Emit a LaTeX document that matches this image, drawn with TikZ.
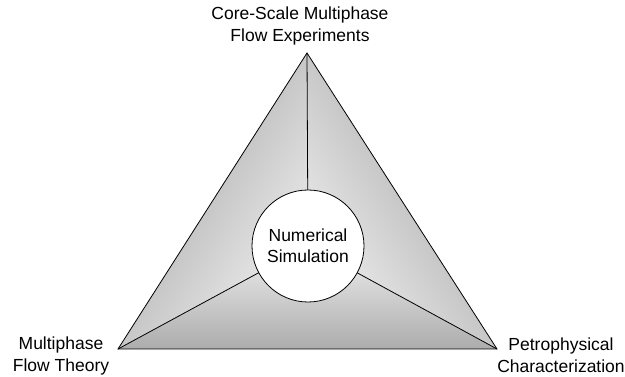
\documentclass[tikz,border=0pt]{standalone}
\usepackage{fontspec}
\setmainfont{Liberation Sans}
\begin{document}
\begin{tikzpicture}[x=1pt,y=-1pt,
  edge/.style={draw=black,line width=0.8pt},
  lbl/.style={align=center,font=\fontsize{17.5}{21.5}\selectfont,inner sep=0pt},
  hub/.style={circle,draw=black,line width=0.8pt,fill=white,minimum size=112pt,inner sep=0pt,align=center,font=\fontsize{17.5}{21}\selectfont}]
\useasboundingbox (0,0) rectangle (625,377);
\coordinate (A) at (307,53);
\coordinate (L) at (118,349);
\coordinate (R) at (497,349);
\coordinate (C) at (308,246);
% shaded sectors
\shade[top color=gray!75, bottom color=gray!12, shading angle=57.5] (C) -- (L) -- (A) -- cycle;
\shade[top color=gray!75, bottom color=gray!12, shading angle=-57.5] (C) -- (A) -- (R) -- cycle;
\shade[top color=gray!12, bottom color=gray!65] (C) -- (L) -- (R) -- cycle;
\draw[edge] (C) -- (A) (C) -- (L) (C) -- (R);
\draw[edge] (A) -- (L) -- (R) -- cycle;
\node[hub] (sim) at (C) {Numerical\\Simulation};
\node[lbl] (top) at (300,26) {Core-Scale Multiphase\\Flow Experiments};
\node[lbl] (left) at (61,356) {Multiphase\\Flow Theory};
\node[lbl] (right) at (561,355) {Petrophysical\\Characterization};
\end{tikzpicture}
\end{document}
